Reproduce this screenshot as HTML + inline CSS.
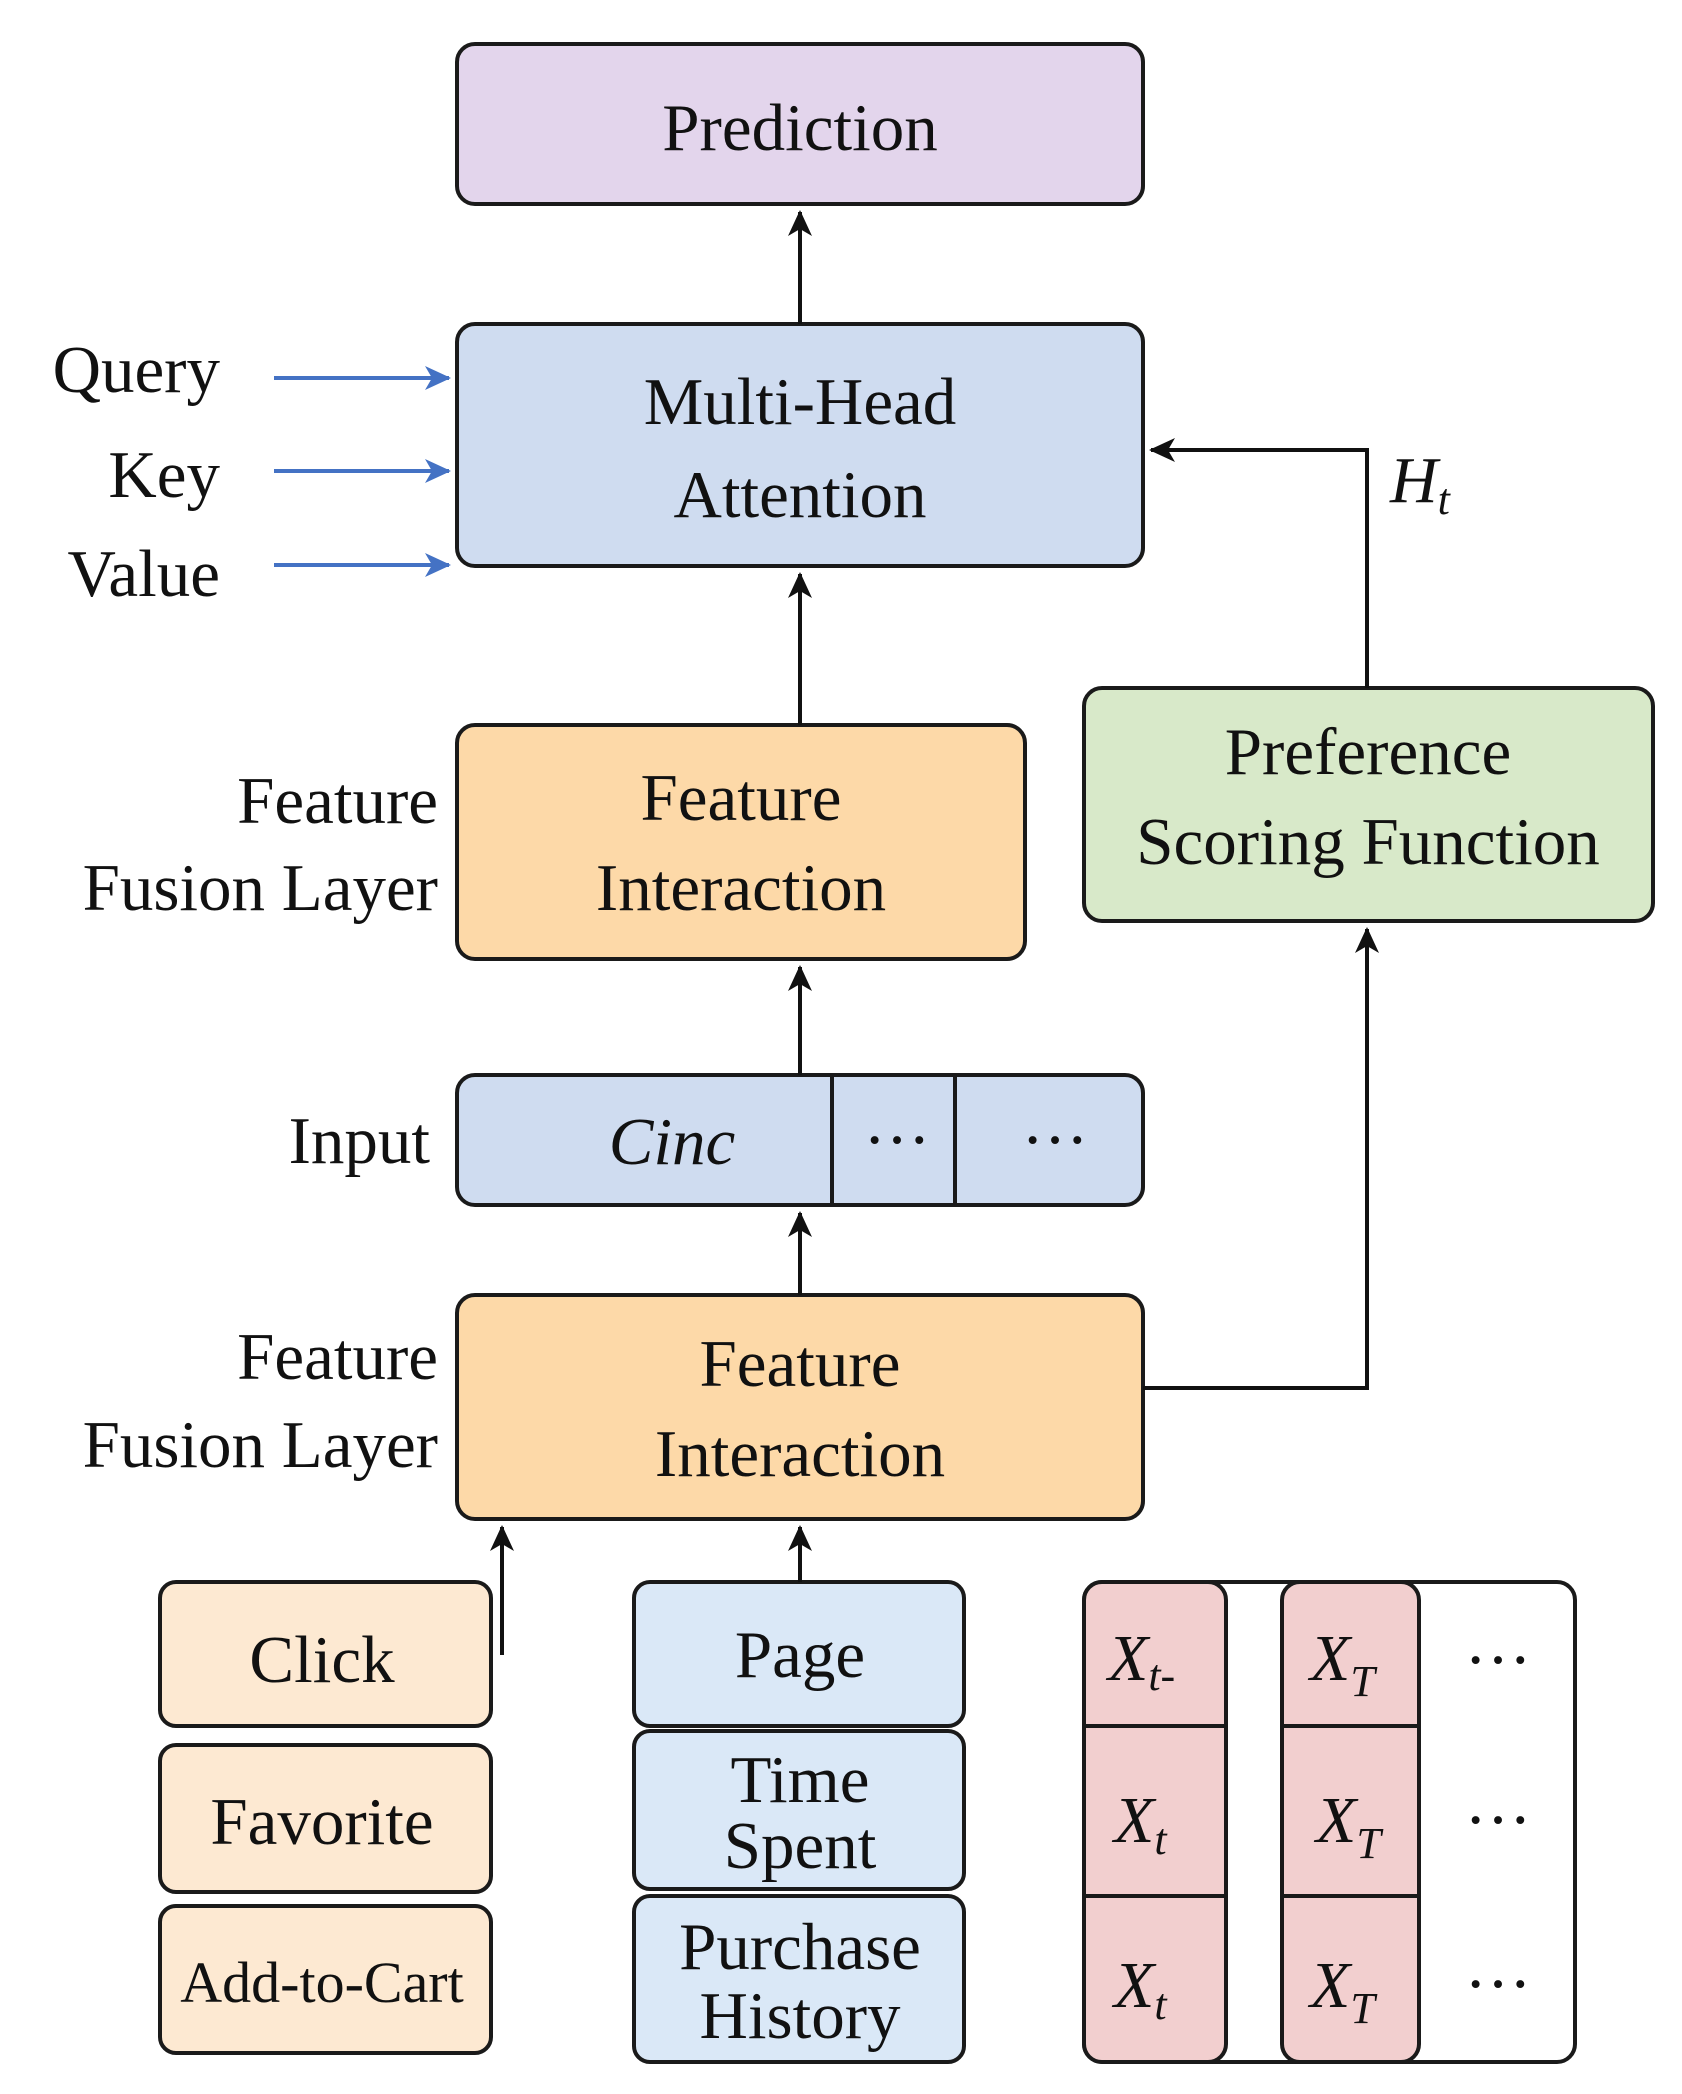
<!DOCTYPE html>
<html><head><meta charset="utf-8"><style>
html,body{margin:0;padding:0;background:#fff;}
svg{display:block;}
text{font-family:"Liberation Serif",serif;fill:#111;}
</style></head><body>
<svg width="1682" height="2094" viewBox="0 0 1682 2094" xmlns="http://www.w3.org/2000/svg">
<defs>
<marker id="ak" markerWidth="26" markerHeight="24" refX="24" refY="12" orient="auto" markerUnits="userSpaceOnUse"><path d="M0,0 L26,12 L0,24 L7,12z" fill="#111"/></marker>
<marker id="abl" markerWidth="26" markerHeight="24" refX="24" refY="12" orient="auto" markerUnits="userSpaceOnUse"><path d="M0,0 L26,12 L0,24 L7,12z" fill="#4472c4"/></marker>
</defs>
<g stroke="#1a1a1a" stroke-width="4">
<rect x="457" y="44" width="686" height="160" rx="18" fill="#e3d5ec"/>
<rect x="457" y="324" width="686" height="242" rx="18" fill="#cfdcf0"/>
<rect x="457" y="725" width="568" height="234" rx="18" fill="#fdd9a8"/>
<rect x="1084" y="688" width="569" height="233" rx="18" fill="#d8e9c9"/>
<rect x="457" y="1075" width="686" height="130" rx="18" fill="#cfdcf0"/>
<line x1="832" y1="1075" x2="832" y2="1205"/>
<line x1="955" y1="1075" x2="955" y2="1205"/>
<rect x="457" y="1295" width="686" height="224" rx="18" fill="#fdd9a8"/>
<rect x="160" y="1582" width="331" height="144" rx="16" fill="#fde9d2"/>
<rect x="160" y="1745" width="331" height="147" rx="16" fill="#fde9d2"/>
<rect x="160" y="1906" width="331" height="147" rx="16" fill="#fde9d2"/>
<rect x="634" y="1582" width="330" height="144" rx="16" fill="#dae8f7"/>
<rect x="634" y="1731" width="330" height="158" rx="16" fill="#dae8f7"/>
<rect x="634" y="1896" width="330" height="166" rx="16" fill="#dae8f7"/>
<rect x="1084" y="1582" width="491" height="480" rx="18" fill="#fff"/>
<rect x="1084" y="1582" width="142" height="480" rx="18" fill="#f2cfcf"/>
<rect x="1282" y="1582" width="137" height="480" rx="18" fill="#f2cfcf"/>
<line x1="1084" y1="1726" x2="1226" y2="1726"/><line x1="1084" y1="1896" x2="1226" y2="1896"/>
<line x1="1282" y1="1726" x2="1419" y2="1726"/><line x1="1282" y1="1896" x2="1419" y2="1896"/>
</g>
<g stroke="#111" stroke-width="4" fill="none">
<line x1="800" y1="324" x2="800" y2="212" marker-end="url(#ak)"/>
<line x1="800" y1="725" x2="800" y2="574" marker-end="url(#ak)"/>
<line x1="800" y1="1075" x2="800" y2="967" marker-end="url(#ak)"/>
<line x1="800" y1="1295" x2="800" y2="1213" marker-end="url(#ak)"/>
<polyline points="1367,688 1367,450 1151,450" marker-end="url(#ak)"/>
<polyline points="1143,1388 1367,1388 1367,929" marker-end="url(#ak)"/>
<line x1="502" y1="1655" x2="502" y2="1527" marker-end="url(#ak)"/>
<line x1="800" y1="1582" x2="800" y2="1527" marker-end="url(#ak)"/>
</g>
<g stroke="#4472c4" stroke-width="4">
<line x1="274" y1="378" x2="449" y2="378" marker-end="url(#abl)"/>
<line x1="274" y1="471" x2="449" y2="471" marker-end="url(#abl)"/>
<line x1="274" y1="565" x2="449" y2="565" marker-end="url(#abl)"/>
</g>
<g font-size="67" text-anchor="middle">
<text x="800" y="150">Prediction</text>
<text x="800" y="424">Multi-Head</text>
<text x="800" y="517">Attention</text>
<text x="741" y="820">Feature</text>
<text x="741" y="910">Interaction</text>
<text x="1368" y="774">Preference</text>
<text x="1368" y="864">Scoring Function</text>
<text x="672" y="1164" font-style="italic">Cinc</text>
<text x="897" y="1162">···</text>
<text x="1055" y="1162">···</text>
<text x="800" y="1386">Feature</text>
<text x="800" y="1476">Interaction</text>
<text x="322" y="1682">Click</text>
<text x="322" y="1844">Favorite</text>
<text x="322" y="2002" font-size="58">Add-to-Cart</text>
<text x="800" y="1677">Page</text>
<text x="800" y="1802">Time</text>
<text x="800" y="1868">Spent</text>
<text x="800" y="1969">Purchase</text>
<text x="800" y="2038">History</text>
<text x="1498" y="1682">···</text>
<text x="1498" y="1842">···</text>
<text x="1498" y="2006">···</text>
</g>
<g font-size="67" text-anchor="end">
<text x="220" y="392">Query</text>
<text x="220" y="497">Key</text>
<text x="220" y="596">Value</text>
<text x="438" y="823">Feature</text>
<text x="438" y="910">Fusion Layer</text>
<text x="430" y="1163">Input</text>
<text x="438" y="1379">Feature</text>
<text x="438" y="1467">Fusion Layer</text>
</g>
<g font-size="66" font-style="italic">
<text x="1390" y="502">H<tspan font-size="44" dy="12">t</tspan></text>
<text x="1108" y="1680">X<tspan font-size="44" dy="10">t-</tspan></text>
<text x="1114" y="1842">X<tspan font-size="44" dy="12">t</tspan></text>
<text x="1114" y="2007">X<tspan font-size="44" dy="12">t</tspan></text>
<text x="1310" y="1680">X<tspan font-size="44" dy="16">T</tspan></text>
<text x="1316" y="1842">X<tspan font-size="44" dy="16">T</tspan></text>
<text x="1310" y="2007">X<tspan font-size="44" dy="16">T</tspan></text>
</g>
</svg>
</body></html>
